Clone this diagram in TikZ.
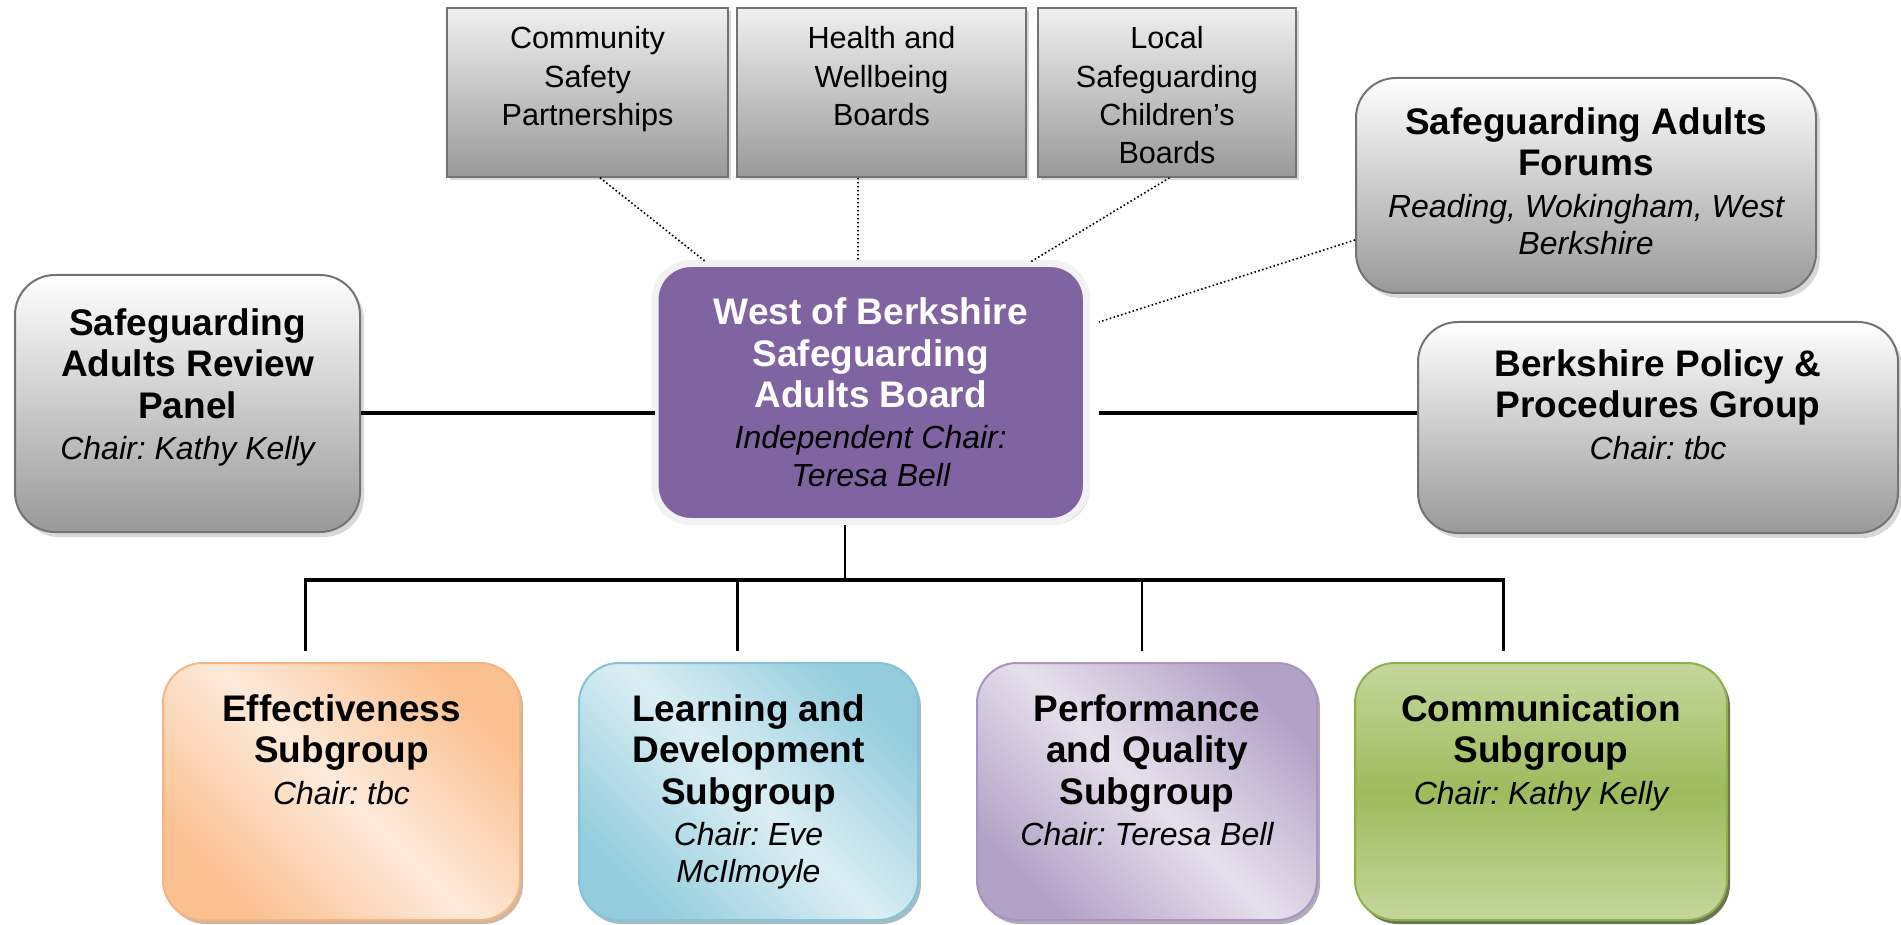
\documentclass[tikz,border=0pt]{standalone}
\usepackage{fontspec}
\setmainfont{Liberation Sans}
\usetikzlibrary{calc,shadows,positioning}
\frenchspacing

\definecolor{boardpurple}{HTML}{8064A2}
\definecolor{effdark}{HTML}{FAC090}
\definecolor{efflight}{HTML}{FDEADA}
\definecolor{effline}{HTML}{F6B483}
\definecolor{lddark}{HTML}{93CDDD}
\definecolor{ldlight}{HTML}{DCEEF4}
\definecolor{ldline}{HTML}{86C3D6}
\definecolor{pqdark}{HTML}{B3A2C7}
\definecolor{pqlight}{HTML}{E6E0EC}
\definecolor{pqline}{HTML}{A893C1}
\definecolor{comdark}{HTML}{9DBB5C}
\definecolor{comlight}{HTML}{C4D79C}
\definecolor{comline}{HTML}{8DB04A}

\pgfdeclarehorizontalshading{effshade}{100bp}{color(0bp)=(effdark); color(25bp)=(effdark);
  color(50bp)=(efflight); color(75bp)=(effdark); color(100bp)=(effdark)}
\pgfdeclarehorizontalshading{ldshade}{100bp}{color(0bp)=(lddark); color(25bp)=(lddark);
  color(50bp)=(ldlight); color(75bp)=(lddark); color(100bp)=(lddark)}
\pgfdeclarehorizontalshading{pqshade}{100bp}{color(0bp)=(pqdark); color(25bp)=(pqdark);
  color(50bp)=(pqlight); color(75bp)=(pqdark); color(100bp)=(pqdark)}
\pgfdeclareverticalshading{comshade}{100bp}{color(0bp)=(comlight); color(25bp)=(comlight);
  color(50bp)=(comdark); color(75bp)=(comlight); color(100bp)=(comlight)}

\newcommand{\chair}[1]{{\mdseries\itshape\color{black}\fontsize{16}{18}\selectfont #1}}

\begin{document}
\begin{tikzpicture}[x=0.5pt,y=-0.5pt]
  \tikzstyle{tb}=[
    draw=black!55, rectangle, line width=0.8pt,
    top color=black!6, bottom color=black!40,
    drop shadow={shadow xshift=1.5pt,shadow yshift=-1.5pt,fill=black!30},
    minimum height=84.5pt
  ]
  \tikzstyle{gb}=[
    draw=black!55, rectangle, line width=1pt,
    rounded corners=20pt,
    top color=white, bottom color=black!40,
    drop shadow={shadow xshift=2pt,shadow yshift=-2.5pt,fill=black!30}
  ]
  \tikzstyle{mb}=[
    draw=black!5, line width=3.5pt, outer sep=0pt,
    rounded corners=18pt, fill=boardpurple,
    drop shadow={shadow xshift=1.5pt,shadow yshift=-1.5pt,fill=black!35}
  ]
  \tikzstyle{sb}=[
    rectangle, line width=1pt,
    rounded corners=20pt,
    minimum height=128.5pt
  ]
  \tikzstyle{hd}=[font=\fontsize{18.5}{20.7}\selectfont\bfseries,
    align=center, inner sep=0pt, anchor=north]
  \tikzstyle{tt}=[font=\fontsize{15.3}{19.2}\selectfont,
    align=center, inner sep=0pt, anchor=north]
  \tikzstyle{link}=[line width=2pt]
  \tikzstyle{tree}=[line width=1.25pt]
  \tikzstyle{dots}=[line width=0.8pt, dash pattern=on 0.8pt off 1.2pt]

  \useasboundingbox (0,0) rectangle (1901,925);

  % partner boards
  \node[tb, minimum width=140.5pt] (csp)  at (587.5,92.5) {};
  \node[tb, minimum width=144.5pt] (hwb)  at (881.5,92.5) {};
  \node[tb, minimum width=129pt]   (lscb) at (1167,92.5) {};

  % side groups
  \node[gb, minimum width=172.5pt, minimum height=128.5pt] (sarp) at (187.5,403.5) {};
  \node[gb, minimum width=230pt, minimum height=107.5pt]   (saf)  at (1586,185.5) {};
  \node[gb, minimum width=240pt, minimum height=105.5pt]   (bpp)  at (1658,427.5) {};

  % the board
  \node[mb, minimum width=215.75pt, minimum height=129pt] (wbsab) at (870.75,392.5) {};

  % subgroups
  \node[sb, draw=effline, shading=effshade, shading angle=45, minimum width=178.5pt,
    drop shadow={shadow xshift=1.5pt,shadow yshift=-2pt,fill=effdark!70!black,opacity=.6}]
    (eff) at (341.5,791.5) {};
  \node[sb, draw=ldline, shading=ldshade, shading angle=45, minimum width=169.5pt,
    drop shadow={shadow xshift=1.5pt,shadow yshift=-2pt,fill=lddark!70!black,opacity=.6}]
    (lds) at (748.5,791.5) {};
  \node[sb, draw=pqline, shading=pqshade, shading angle=45, minimum width=170pt,
    drop shadow={shadow xshift=1.5pt,shadow yshift=-2pt,fill=pqdark!70!black,opacity=.6}]
    (pqs) at (1147,791.5) {};
  \node[sb, draw=comline, shading=comshade, minimum width=186pt,
    drop shadow={shadow xshift=1.5pt,shadow yshift=-2pt,fill=comdark!45!black,opacity=.8}]
    (coms) at (1541,791.5) {};

  \node[tt] at ([yshift=-9.5pt]csp.north)  {Community\\Safety\\Partnerships};
  \node[tt] at ([yshift=-9.5pt]hwb.north)  {Health and\\Wellbeing\\Boards};
  \node[tt] at ([yshift=-9.5pt]lscb.north) {Local\\Safeguarding\\Children’s\\Boards};

  \node[hd] at ([yshift=-17pt]sarp.north) {Safeguarding\\Adults Review\\Panel\\\chair{Chair: Kathy Kelly}};
  \node[hd] at ([yshift=-15pt]saf.north) {Safeguarding Adults\\Forums\\\chair{Reading, Wokingham, West}\\[-2pt]\chair{Berkshire}};
  \node[hd] at ([yshift=-14pt]bpp.north) {Berkshire Policy \&\\Procedures Group\\\chair{Chair: tbc}};

  \node[hd, text=white] at ([yshift=-17pt]wbsab.north) {West of Berkshire\\Safeguarding\\Adults Board\\\chair{Independent Chair:}\\[-2pt]\chair{Teresa Bell}};

  \node[hd] at ([yshift=-16pt]eff.north)  {Effectiveness\\Subgroup\\\chair{Chair: tbc}};
  \node[hd] at ([yshift=-16pt]lds.north)  {Learning and\\Development\\Subgroup\\\chair{Chair: Eve}\\[-2pt]\chair{McIlmoyle}};
  \node[hd] at ([yshift=-16pt]pqs.north)  {Performance\\and Quality\\Subgroup\\\chair{Chair: Teresa Bell}};
  \node[hd] at ([yshift=-16pt]coms.north) {Communication\\Subgroup\\\chair{Chair: Kathy Kelly}};

  % links
  \coordinate (hl) at (0,413);
  \draw[link] (sarp.east |- hl) -- (wbsab.west |- hl);
  \draw[link, shorten <=6pt] (wbsab.east |- hl) -- (bpp.west |- hl);

  \draw[dots, shorten >=1.5pt] ([xshift=6.25pt]csp.south)  -- ([xshift=-81.4pt]wbsab.north);
  \draw[dots, shorten >=1.5pt] ([xshift=-11.75pt]hwb.south) -- ([xshift=-6.4pt]wbsab.north);
  \draw[dots, shorten >=1.5pt] ([xshift=1.25pt]lscb.south) -- ([xshift=78.6pt]wbsab.north);
  \draw[dots] ([yshift=-27.25pt]saf.west) -- ([xshift=6.25pt,yshift=35.25pt]wbsab.east);

  \coordinate (stem) at (845,580);
  \coordinate (j1) at (305.5,580);
  \coordinate (j2) at (737.5,580);
  \coordinate (j3) at (1142,580);
  \coordinate (j4) at (1503.5,580);
  \draw[tree, shorten <=1.75pt] (wbsab.south -| stem) -- (stem);
  \draw[tree, line width=1.6pt, line cap=rect] (j1) -- (j4);
  \foreach \j/\b in {j1/eff,j2/lds,j3/pqs,j4/coms}
    \draw[tree, shorten >=5.5pt] (\j) -- (\j |- \b.north);

\end{tikzpicture}
\end{document}
